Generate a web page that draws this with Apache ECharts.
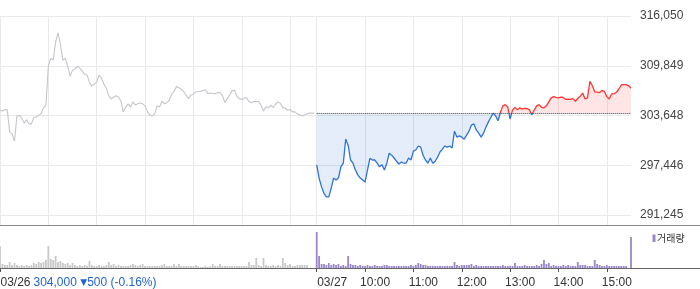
<!DOCTYPE html>
<html><head><meta charset="utf-8">
<script src="https://cdn.jsdelivr.net/npm/echarts@6/dist/echarts.min.js"></script>
<style>html,body{margin:0;padding:0;background:#fff}#c{width:700px;height:289px}</style>
</head><body><div id="c"></div>
<script>
const days = ['03/26', '03/27'];
const yTickValues = [291245, 297446, 303648, 309849, 316050];
const prevClose = 303900;
const legendName = '거래량';
const quotePrice = '304,000';
const quoteChange = '▼500 (-0.16%)';

// 3-minute samples, 09:00 .. 15:30
const day1Price = [
304350,304200,304400,304350,301600,301350,300450,303600,303650,303350,
302700,303100,302600,302600,303400,303450,303650,303900,304600,304950,
309800,310800,310550,312800,313950,312500,310550,310800,309800,308550,
309300,309450,309800,309550,309200,308800,308700,307800,307300,307550,
307800,308700,308300,307550,307050,306100,305700,305950,306100,305950,
305450,304100,304700,305100,304700,305350,304950,305100,305200,305100,
304850,304100,303700,303600,303850,304850,304700,305450,305100,305250,
305550,306300,306650,307250,307100,306900,306650,306150,305750,306200,
306300,306600,306600,306650,306800,306850,306350,306450,306400,306350,
306500,306500,306150,305250,305750,306200,306750,306800,306050,305750,
305650,305850,305850,305400,305250,305400,305400,305400,304900,304200,
304750,304600,304950,304650,305050,305350,305150,304600,304600,304300,
304400,304100,304100,303850,303750,303600,303700,303850,303950,303950,303950
];
const day2Price = [
297500,295850,294750,293950,293500,293500,294600,295850,295600,295850,
297250,297700,300700,299950,298100,297700,296850,296250,295850,295600,
295350,296850,298300,298100,298100,297700,297250,297500,296850,297700,
298950,298700,298350,297950,297600,297850,297700,297700,298350,298100,
299200,299350,299850,299700,298700,298100,297700,298350,297700,297950,
298450,299100,299450,299850,299700,299850,299600,301700,300950,301100,
300950,300700,301200,301700,302450,302600,301850,301450,300950,301450,
302200,302850,303400,303950,303600,303000,304050,304850,305000,304750,
303200,304350,304650,304350,304600,304450,304550,304500,304350,303750,
304350,304850,305000,304650,304600,304850,305350,305850,306000,305900,
305850,305950,305900,305650,305700,305650,305750,305400,305800,306050,
306450,305700,305850,307900,307350,306600,306550,306500,306750,306650,
306000,305700,306350,306350,306550,306950,307450,307500,307500,307350,307050
];
const day1Volume = [
22,4,3,3,6,3,5,3,2,3,
2,3,2,3,5,4,6,5,6,8,
22,9,8,12,6,7,5,4,5,3,
5,3,2,3,2,3,2,7,3,2,
2,3,2,2,3,6,3,4,2,3,
2,2,2,2,3,4,3,2,3,4,
2,2,2,2,2,2,2,3,4,2,
2,2,4,2,4,2,2,2,2,2,
2,3,2,1,1,2,1,2,4,2,
2,4,2,2,2,2,2,2,2,2,
2,2,2,6,3,3,10,3,2,10,
3,2,2,3,2,3,2,10,5,3,
4,2,2,3,3,3,3,3,0,0,0
];
const day2Volume = [
36,12,4,4,3,5,3,4,3,4,
2,3,2,12,4,3,3,2,3,2,
2,3,2,2,3,2,2,2,3,3,
2,2,2,2,2,2,2,2,2,3,
2,3,5,4,3,3,2,2,2,2,
2,2,2,2,2,2,2,6,3,2,
3,3,3,3,4,2,3,2,2,2,
2,2,2,2,2,2,2,3,2,2,
2,2,5,2,2,2,3,2,2,2,
2,3,2,4,8,4,5,2,3,2,
2,2,3,2,3,2,2,2,6,3,
3,3,2,2,2,8,4,3,2,2,
3,2,2,2,2,2,2,2,2,0,31
];

const sessionTimes = [];
for (let m = 9 * 60; m <= 15 * 60 + 30; m += 3) {
  sessionTimes.push(String(Math.floor(m / 60)).padStart(2, '0') + ':' + String(m % 60).padStart(2, '0'));
}
const categories = [];
days.forEach(d => sessionTimes.forEach(t => categories.push(d + ' ' + t)));
const N = sessionTimes.length;

const FONT = 'Arial, "Liberation Sans", sans-serif';
const isDayStart = v => v.slice(-5) === '09:00';
const isHour = v => v.slice(-2) === '00';
const gridLineAt = (i, v) => isHour(v);
const tickAt = (i, v) => isDayStart(v) || (i >= N && isHour(v));
const fmtNum = v => String(v).replace(/\B(?=(\d{3})+(?!\d))/g, ',');

const chart = echarts.init(document.getElementById('c'), null, {renderer: 'canvas'});
chart.setOption({
  animation: false,
  backgroundColor: '#fff',
  grid: [
    {left: 0, right: 69, top: 16, height: 209, containLabel: false, outerBoundsMode: 'none'},
    {left: 0, right: 69, top: 226, height: 42, containLabel: false, outerBoundsMode: 'none'}
  ],
  xAxis: [
    {type: 'category', gridIndex: 0, data: categories, boundaryGap: false,
     axisLine: {show: false}, axisTick: {show: false}, axisLabel: {show: false},
     splitLine: {show: true, interval: gridLineAt, lineStyle: {color: '#e9e9e9', width: 1}}},
    {type: 'category', gridIndex: 1, data: categories, boundaryGap: false,
     axisLine: {show: false},
     axisTick: {show: true, interval: tickAt, length: 4, lineStyle: {color: '#555', width: 1}},
     axisLabel: {show: true, interval: tickAt, margin: 9,
       formatter: v => isDayStart(v) ? '{d|' + v.slice(0, 5) + '}' : '{t|' + v.slice(-5) + '}',
       rich: {
         d: {padding: [0, 0, 0, 31], fontSize: 12, color: '#333', fontFamily: FONT},
         t: {padding: [0, 0, 0, 20], fontSize: 12, color: '#333', fontFamily: FONT}
       }},
     splitLine: {show: false}}
  ],
  yAxis: [
    {type: 'value', gridIndex: 0, position: 'right', min: 290000, max: 316050,
     axisLine: {show: false},
     axisTick: {show: false, customValues: yTickValues},
     axisLabel: {customValues: yTickValues, formatter: v => fmtNum(v), color: '#444',
                 fontSize: 12, fontFamily: FONT, margin: 9},
     splitLine: {show: true, lineStyle: {color: '#e9e9e9', width: 1}}},
    {type: 'value', gridIndex: 1, min: 0, max: 42, show: false}
  ],
  visualMap: {
    type: 'piecewise', show: false, seriesIndex: 1, dimension: 1,
    pieces: [{gte: 250000, lt: prevClose, color: '#2f72d8'}, {gte: prevClose, lte: 360000, color: '#ff3535'}]
  },
  series: [
    {type: 'line', xAxisIndex: 0, yAxisIndex: 0, data: day1Price, showSymbol: false, silent: true,
     lineStyle: {color: '#c5c6cc', width: 1.1}, itemStyle: {color: '#c5c6cc'}},
    {type: 'line', xAxisIndex: 0, yAxisIndex: 0, data: day1Price.map(() => null).concat(day2Price),
     showSymbol: false, silent: true, lineStyle: {width: 1.3},
     areaStyle: {origin: prevClose, opacity: 0.13},
     markLine: {symbol: 'none', silent: true, label: {show: false},
       lineStyle: {type: [1, 1], color: '#444', width: 1},
       emphasis: {disabled: true},
       data: [[{coord: [N, prevClose]}, {coord: [2 * N - 1, prevClose]}]]}},
    {type: 'bar', xAxisIndex: 1, yAxisIndex: 1, data: day1Volume.concat(day2Volume),
     barWidth: 1.8, silent: true, clip: false,
     itemStyle: {color: p => p.dataIndex < N ? '#c8c8c8' : '#9a86cb'}}
  ],
  graphic: [
    {type: 'line', silent: true, shape: {x1: 0, y1: 225.5, x2: 700, y2: 225.5}, style: {stroke: '#8a8a8a', lineWidth: 1}, z: 100},
    {type: 'line', silent: true, shape: {x1: 0, y1: 268.5, x2: 700, y2: 268.5}, style: {stroke: '#666', lineWidth: 1}, z: 100},
    {type: 'rect', silent: true, shape: {x: 652.5, y: 234.5, width: 3, height: 7.5}, style: {fill: '#9a86cb'}},
    {type: 'text', silent: true, x: 657, y: 238.5,
     style: {text: legendName, fontSize: 10, fill: '#333', fontFamily: '"Noto Sans CJK KR", sans-serif', verticalAlign: 'middle'}},
    {type: 'text', silent: true, x: 33.5, y: 283,
     style: {text: '{p|' + quotePrice + '} {a|' + quoteChange.slice(0, 1) + '}{p|' + quoteChange.slice(1) + '}',
       verticalAlign: 'middle',
       rich: {p: {fontSize: 12, fill: '#2464cf', fontFamily: FONT},
              a: {fontSize: 9, fill: '#2464cf', fontFamily: '"DejaVu Sans", sans-serif'}}}}
  ]
});
</script>
</body></html>
